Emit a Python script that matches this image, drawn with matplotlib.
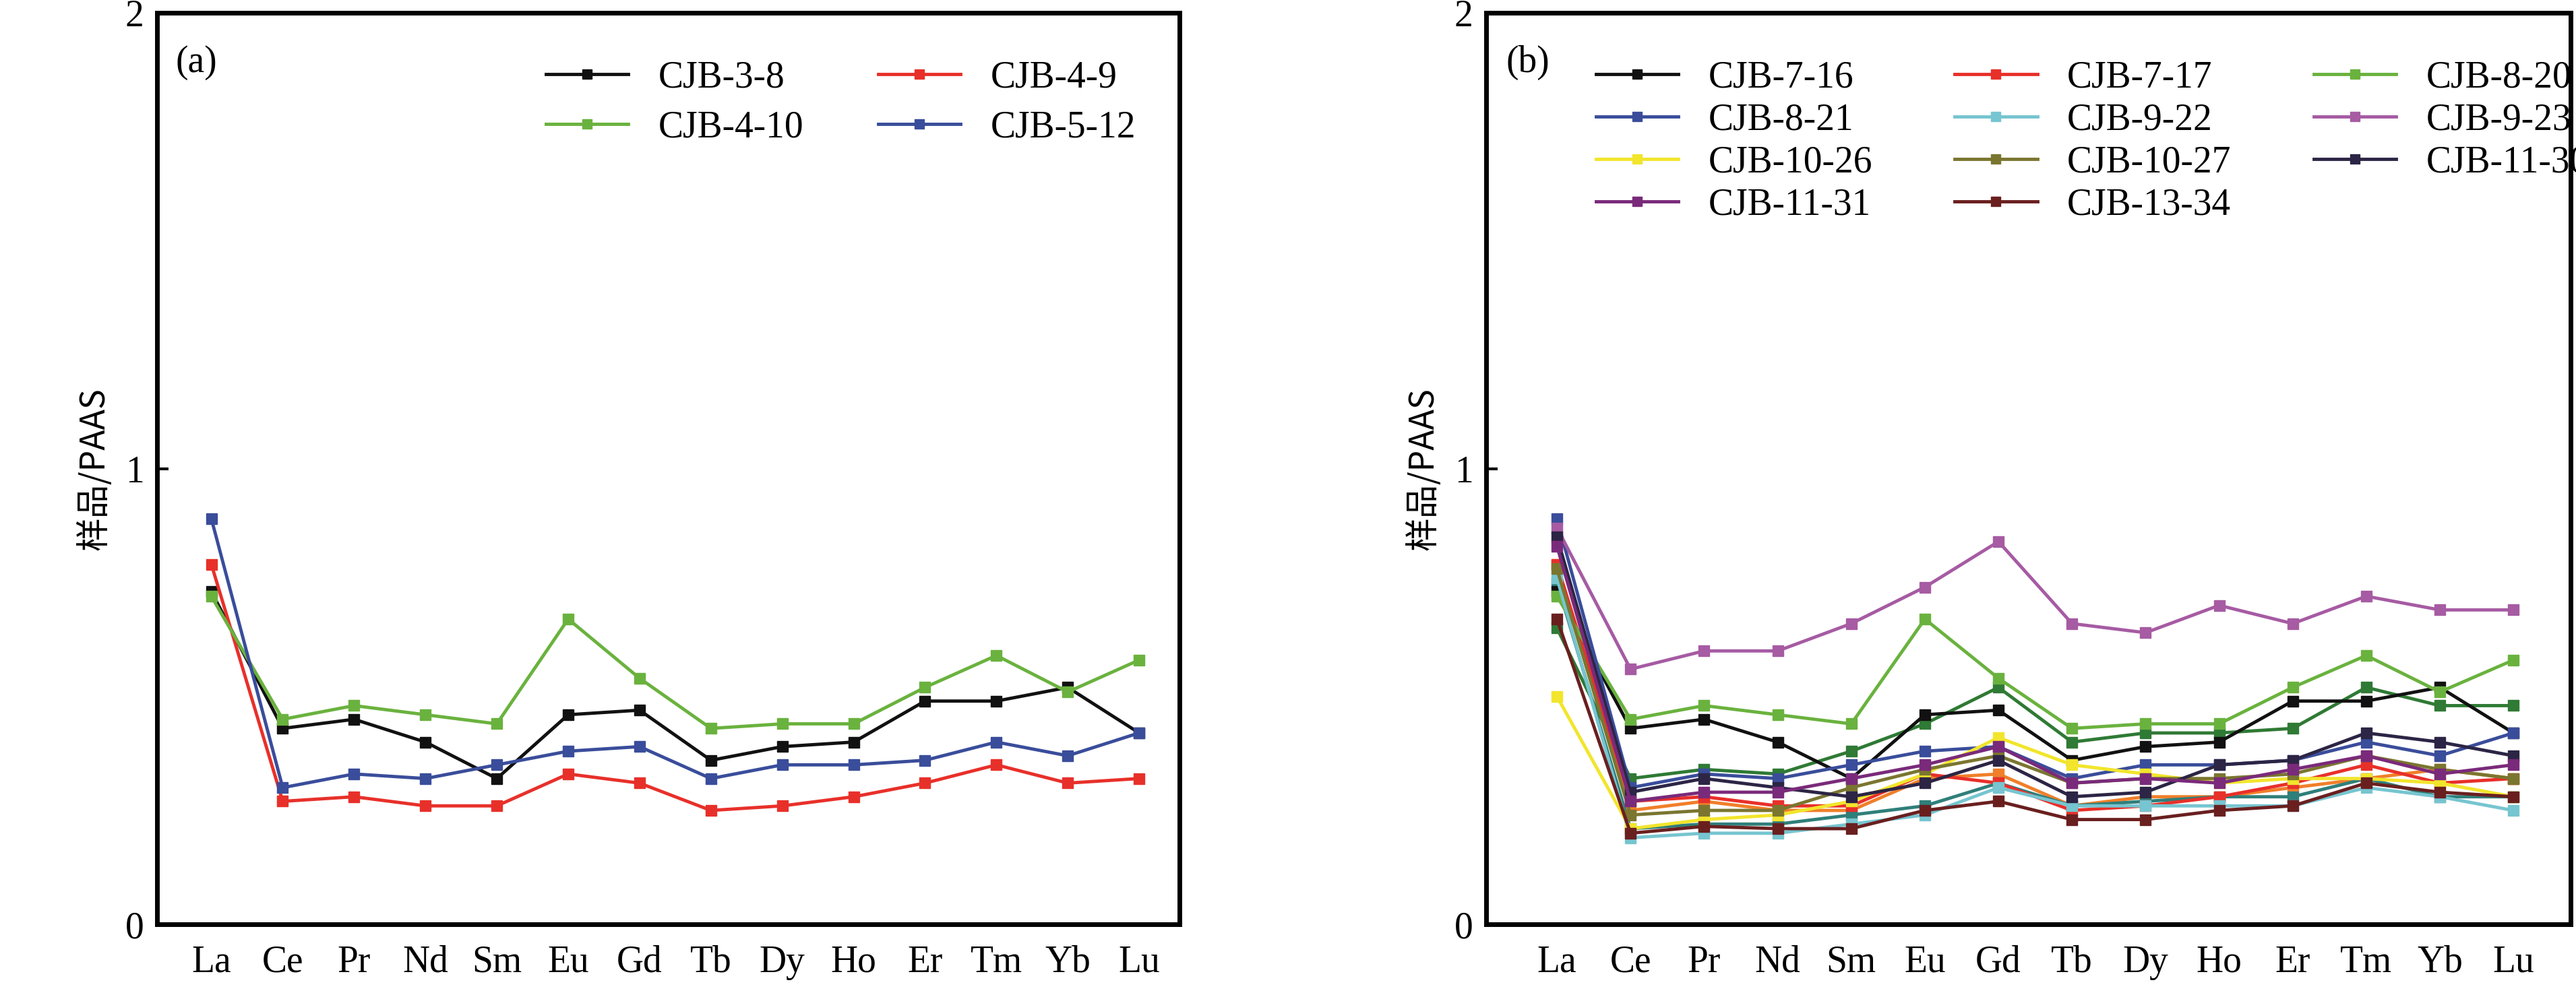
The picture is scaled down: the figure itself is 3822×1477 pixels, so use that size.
import matplotlib
matplotlib.use("Agg")
import matplotlib.pyplot as plt

ree = ["La","Ce","Pr","Nd","Sm","Eu","Gd","Tb","Dy","Ho","Er","Tm","Yb","Lu"]

a_names = ["CJB-3-8","CJB-4-9","CJB-4-10","CJB-5-12"]
a_colors = ["#111111","#e8302a","#6ab23e","#3a4d9b"]
cjb_3_8  = [.73,.43,.45,.40,.32,.46,.47,.36,.39,.40,.49,.49,.52,.42]
cjb_4_9  = [.79,.27,.28,.26,.26,.33,.31,.25,.26,.28,.31,.35,.31,.32]
cjb_4_10 = [.72,.45,.48,.46,.44,.67,.54,.43,.44,.44,.52,.59,.51,.58]
cjb_5_12 = [.89,.30,.33,.32,.35,.38,.39,.32,.35,.35,.36,.40,.37,.42]
a_vals = [cjb_3_8, cjb_4_9, cjb_4_10, cjb_5_12]

b_names = ["CJB-7-16","CJB-7-17","CJB-8-20","CJB-8-21","CJB-9-22","CJB-9-23",
           "CJB-10-26","CJB-10-27","CJB-11-30","CJB-11-31","CJB-13-34"]
b_colors = ["#111111","#e8302a","#6ab23e","#3a4d9b","#76c5d0","#a65ba3",
            "#f2e52c","#7a7630","#2c2545","#7a2a7a","#6a1f1f"]
cjb_7_16  = cjb_3_8
cjb_7_17  = cjb_4_9
cjb_8_20  = cjb_4_10
cjb_8_21  = cjb_5_12
cjb_9_22  = [.76,.19,.20,.20,.22,.24,.30,.26,.26,.26,.26,.30,.28,.25]
cjb_9_23  = [.87,.56,.60,.60,.66,.74,.84,.66,.64,.70,.66,.72,.69,.69]
cjb_10_26 = [.50,.21,.23,.24,.27,.33,.41,.35,.33,.31,.32,.32,.31,.28]
cjb_10_27 = [.78,.24,.25,.25,.30,.34,.37,.31,.32,.32,.33,.37,.34,.32]
cjb_11_30 = [.85,.29,.32,.30,.28,.31,.36,.28,.29,.35,.36,.42,.40,.37]
cjb_11_31 = [.83,.27,.29,.29,.32,.35,.39,.31,.32,.31,.34,.37,.33,.35]
cjb_13_34 = [.67,.20,.215,.21,.21,.25,.27,.23,.23,.25,.26,.31,.29,.28]
b_vals = [cjb_7_16,cjb_7_17,cjb_8_20,cjb_8_21,cjb_9_22,cjb_9_23,
          cjb_10_26,cjb_10_27,cjb_11_30,cjb_11_31,cjb_13_34]

# unlabeled extra series in panel (b)
extra_colors = ["#2f7a35","#f07f2a","#2f7f7a"]
extra_dkgreen = [.65,.32,.34,.33,.38,.44,.52,.40,.42,.42,.43,.52,.48,.48]
extra_orange  = [.79,.25,.27,.25,.25,.32,.33,.26,.28,.28,.30,.32,.34,.32]
extra_teal    = [.75,.21,.22,.22,.24,.26,.31,.26,.27,.28,.28,.32,.28,.28]
extra_vals = [extra_dkgreen, extra_orange, extra_teal]

serif = ["Liberation Serif","DejaVu Serif"]
plt.rcParams["font.family"] = serif

fig = plt.figure(figsize=(38.22,14.77), dpi=100)
axa = fig.add_axes([0.061,0.071,0.397,0.916])
axb = fig.add_axes([0.577,0.071,0.421,0.916])
x = list(range(len(ree)))
FS = 40

def style(ax, label, xl):
    ax.set_ylim(0,2)
    ax.set_xlim(*xl)
    ax.set_yticks([0,1,2])
    ax.set_xticks(x)
    ax.set_xticklabels(ree)
    ax.tick_params(axis="x", length=0, labelsize=FS, pad=22)
    ax.tick_params(axis="y", direction="in", length=12, width=3, labelsize=FS, pad=14)
    for s in ax.spines.values():
        s.set_linewidth(5)
    ax.set_ylabel("样品/PAAS", family=["Noto Sans CJK SC","DejaVu Sans"], fontsize=36, labelpad=14)
    ax.text(0.018,0.965,label, transform=ax.transAxes, fontsize=FS, va="top")

def rowmajor(items, ncol):
    nrow = -(-len(items)//ncol)
    out = []
    for c in range(ncol):
        for r in range(nrow):
            i = r*ncol + c
            if i < len(items):
                out.append(items[i])
    return out, nrow

ha=[]
for v,c,n in zip(a_vals,a_colors,a_names):
    h,=axa.plot(x,v,color=c,lw=3.5,marker="s",ms=12,label=n)
    ha.append(h)
style(axa,"(a)",(-0.76,13.57))
axa.legend(handles=rowmajor(ha,2)[0], ncol=2, loc="upper right", bbox_to_anchor=(0.99,0.985), frameon=False,
           fontsize=FS, handlelength=2.2, columnspacing=2.0, labelspacing=0.4, markerscale=0.8)

for v,c in zip(extra_vals,extra_colors):
    axb.plot(x,v,color=c,lw=3.5,marker="s",ms=12)
hs=[]
for v,c,n in zip(b_vals,b_colors,b_names):
    h,=axb.plot(x,v,color=c,lw=3.5,marker="s",ms=12,label=n)
    hs.append(h)
style(axb,"(b)",(-0.96,13.78))
ordered,_ = rowmajor(hs,3)
# pad shorter last column so fill is row-major
nrow = 4
cols = [[hs[r*3+c] for r in range(nrow) if r*3+c < len(hs)] for c in range(3)]
from matplotlib.lines import Line2D
blank = Line2D([],[],color="none")
handles=[]; labels=[]
for c in range(3):
    col = cols[c]
    for h in col:
        handles.append(h); labels.append(h.get_label())
    for _ in range(nrow-len(col)):
        handles.append(blank); labels.append("")
axb.legend(handles, labels, ncol=3, loc="upper left", bbox_to_anchor=(0.07,0.985), frameon=False,
           fontsize=FS, handlelength=2.2, columnspacing=2.2, labelspacing=0.2, markerscale=0.8)

fig.savefig("out.png", dpi=100)
